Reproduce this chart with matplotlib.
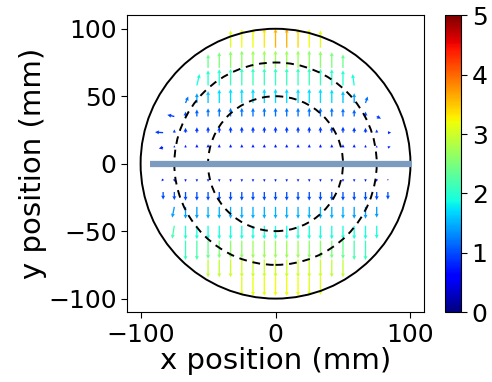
import numpy as np
import matplotlib
matplotlib.use("Agg")
import matplotlib.pyplot as plt
from matplotlib.patches import Circle

n = np.nan

# grid columns (mm) and row positions (mm)
col_x = [-83.3, -75.0, -66.7, -58.3, -50.0, -41.7, -33.3, -25.0, -16.7, -8.3, 0.0,
         8.3, 16.7, 25.0, 33.3, 41.7, 50.0, 58.3, 66.7, 75.0, 83.3]
row_y = [86, 71, 58, 45, 35, 23, 12, -11.5, -21, -32, -46, -57, -71, -84]

# vertical component
V = [
    [n, n, n, n, n, n, 3.2, 3.4, 3.5, 3.5, 3.5, 3.5, 3.5, 3.4, 3.2, n, n, n, n, n, n],
    [n, n, n, n, 2.5, 2.9, 3.1, 3.2, 3.2, 3.2, 3.2, 3.2, 3.2, 3.2, 3.1, 2.9, 2.5, n, n, n, n],
    [n, n, n, 2.1, 2.8, 3.0, 3.1, 3.2, 3.2, 3.2, 3.2, 3.2, 3.2, 3.2, 3.1, 3.0, 2.8, 2.1, n, n, n],
    [n, n, 1.2, 1.8, 2.2, 2.5, 2.6, 2.6, 2.6, 2.6, 2.6, 2.6, 2.6, 2.6, 2.6, 2.5, 2.2, 1.8, 1.2, n, n],
    [n, 0.3, 0.9, 1.3, 1.5, 1.6, 1.6, 1.6, 1.6, 1.6, 1.6, 1.6, 1.6, 1.6, 1.6, 1.6, 1.5, 1.3, 0.9, -0.4, n],
    [0.1, 0.6, 0.9, 1.0, 1.1, 1.1, 1.1, 1.1, 1.1, 1.1, 1.1, 1.1, 1.1, 1.1, 1.1, 1.1, 1.1, 1.0, 0.9, 0.6, 0.0],
    [-0.2, 0.4, 0.5, 0.6, 0.6, 0.6, 0.6, 0.6, 0.6, 0.6, 0.6, 0.6, 0.6, 0.6, 0.6, 0.6, 0.6, 0.6, 0.5, 0.4, 0.2],
    [-0.4, -0.5, -0.5, -0.5, -0.5, -0.5, -0.5, -0.5, -0.5, -0.5, -0.5, -0.5, -0.5, -0.5, -0.5, -0.5, -0.5, -0.5, -0.5, -0.5, -0.3],
    [-1.4, -1.5, -1.6, -1.6, -1.6, -1.6, -1.6, -1.6, -1.6, -1.6, -1.6, -1.6, -1.6, -1.6, -1.6, -1.6, -1.6, -1.6, -1.6, -1.5, -1.4],
    [n, -2.0, -2.2, -2.2, -2.2, -2.2, -2.2, -2.2, -2.2, -2.2, -2.2, -2.2, -2.2, -2.2, -2.2, -2.2, -2.2, -2.2, -2.2, -2.0, n],
    [n, -2.4, -2.5, -2.5, -2.5, -2.5, -2.5, -2.5, -2.5, -2.5, -2.5, -2.5, -2.5, -2.5, -2.5, -2.5, -2.5, -2.5, -2.5, -2.4, n],
    [n, n, -3.6, -3.6, -3.4, -3.3, -3.3, -3.3, -3.3, -3.3, -3.3, -3.3, -3.3, -3.3, -3.3, -3.3, -3.4, -3.6, -3.6, n, n],
    [n, n, n, n, -3.3, -3.3, -3.3, -3.3, -3.3, -3.3, -3.3, -3.3, -3.3, -3.3, -3.3, -3.3, -3.3, n, n, n, n],
    [n, n, n, n, n, n, n, -3.4, -3.5, -3.5, -3.5, -3.5, -3.5, -3.4, -3.3, n, n, n, n, n, n],
]

# horizontal component (zero except near the edges)
U = [[0.0] * 21 for _ in range(14)]
U[2][3], U[2][17] = 0.5, -0.3
U[3][2], U[3][18] = 0.5, 0.4
U[4][1], U[4][19] = -1.3, 0.8
U[5][0], U[5][20] = -1.5, 0.6
U[6][0], U[6][20] = -0.8, 0.5
U[7][0] = -0.3
U[9][1] = -0.4
U[10][1] = -0.4

# colour value (field magnitude)
C = [
    [n, n, n, n, n, n, 3.1, 3.2, 3.2, 3.3, 3.6, 3.6, 3.4, 3.2, 3.1, n, n, n, n, n, n],
    [n, n, n, n, 2.4, 2.5, 2.6, 2.6, 2.7, 2.7, 2.7, 2.7, 2.7, 2.6, 2.6, 2.5, 2.4, n, n, n, n],
    [n, n, n, 1.9, 2.0, 2.0, 2.1, 2.1, 2.1, 2.1, 2.1, 2.1, 2.1, 2.1, 2.1, 2.0, 2.0, 1.9, n, n, n],
    [n, n, 1.2, 1.4, 1.6, 1.7, 1.7, 1.7, 1.7, 1.7, 1.7, 1.7, 1.7, 1.7, 1.7, 1.7, 1.6, 1.4, 1.2, n, n],
    [n, 0.9, 1.0, 1.1, 1.2, 1.2, 1.2, 1.2, 1.2, 1.2, 1.2, 1.2, 1.2, 1.2, 1.2, 1.2, 1.2, 1.1, 1.0, 0.9, n],
    [0.9, 0.9, 0.9, 0.9, 0.9, 0.9, 0.9, 0.9, 0.9, 0.9, 0.9, 0.9, 0.9, 0.9, 0.9, 0.9, 0.9, 0.9, 0.9, 0.9, 0.8],
    [0.8, 0.8, 0.8, 0.8, 0.8, 0.8, 0.8, 0.8, 0.8, 0.8, 0.8, 0.8, 0.8, 0.8, 0.8, 0.8, 0.8, 0.8, 0.8, 0.8, 0.8],
    [0.8, 0.8, 0.8, 0.8, 0.8, 0.8, 0.8, 0.8, 0.8, 0.8, 0.8, 0.8, 0.8, 0.8, 0.8, 0.8, 0.8, 0.8, 0.8, 0.8, 0.8],
    [1.0, 1.0, 1.0, 1.0, 1.0, 1.0, 1.0, 1.0, 1.0, 1.0, 1.0, 1.0, 1.0, 1.0, 1.0, 1.0, 1.0, 1.0, 1.0, 1.0, 1.0],
    [n, 1.4, 1.4, 1.4, 1.5, 1.5, 1.5, 1.5, 1.5, 1.5, 1.5, 1.5, 1.5, 1.5, 1.5, 1.5, 1.5, 1.4, 1.4, 1.4, n],
    [n, 2.2, 2.0, 1.9, 1.9, 1.9, 1.9, 1.9, 1.9, 1.9, 1.9, 1.9, 1.9, 1.9, 1.9, 1.9, 1.9, 1.9, 1.9, 1.9, n],
    [n, n, 2.1, 2.2, 2.4, 2.5, 2.6, 2.6, 2.7, 2.7, 2.7, 2.7, 2.7, 2.6, 2.6, 2.5, 2.4, 2.2, 2.1, n, n],
    [n, n, n, n, 2.9, 2.9, 3.0, 3.0, 3.0, 3.0, 3.0, 3.0, 3.0, 3.0, 3.0, 2.9, 2.9, n, n, n, n],
    [n, n, n, n, n, n, n, 3.1, 3.2, 3.2, 3.2, 3.2, 3.2, 3.1, 3.1, n, n, n, n, n, n],
]

circle_solid = [100]
circle_dashed = [50, 75]
line_x = [-93, 101]
line_y = [0, 0]

plt.rcParams['font.family'] = ['DejaVu Sans']
fig = plt.figure(figsize=(4.92, 3.82), dpi=100)
ax = fig.add_axes([0.258, 0.183, 0.604, 0.777])
cax = fig.add_axes([0.904, 0.183, 0.0335, 0.777])

Xg, Yg = np.meshgrid(np.array(col_x), np.array(row_y))
Ua = np.array(U); Va = np.array(V); Ca = np.array(C)
m = ~np.isnan(Va)
q = ax.quiver(Xg[m], Yg[m], Ua[m], Va[m], Ca[m], cmap='jet', clim=(0, 5),
              angles='xy', scale_units='xy', scale=0.25, pivot='tail',
              width=0.0045, headwidth=3, headlength=3, headaxislength=2.7, zorder=2)

for r in circle_solid:
    ax.add_patch(Circle((0, 0), r, fill=False, ec='black', lw=1.4, zorder=3))
for r in circle_dashed:
    ax.add_patch(Circle((0, 0), r, fill=False, ec='black', lw=1.4, ls=(0, (4, 3)), zorder=3))

ax.plot(line_x, line_y, color='#7b9bbf', lw=4.5, solid_capstyle='butt', zorder=4)

ax.set_xlim(-110, 110)
ax.set_ylim(-110, 110)
ax.set_aspect('equal')
ax.set_xticks([-100, 0, 100])
ax.set_yticks([-100, -50, 0, 50, 100])
ax.tick_params(labelsize=18, length=4)
ax.set_xlabel('x position (mm)', fontsize=21, labelpad=0)
ax.set_ylabel('y position (mm)', fontsize=21, labelpad=1)

cb = fig.colorbar(q, cax=cax)
cb.set_ticks([0, 1, 2, 3, 4, 5])
cb.ax.tick_params(labelsize=18, length=4)
cb.outline.set_linewidth(0.8)

fig.savefig('out.png', dpi=100)
